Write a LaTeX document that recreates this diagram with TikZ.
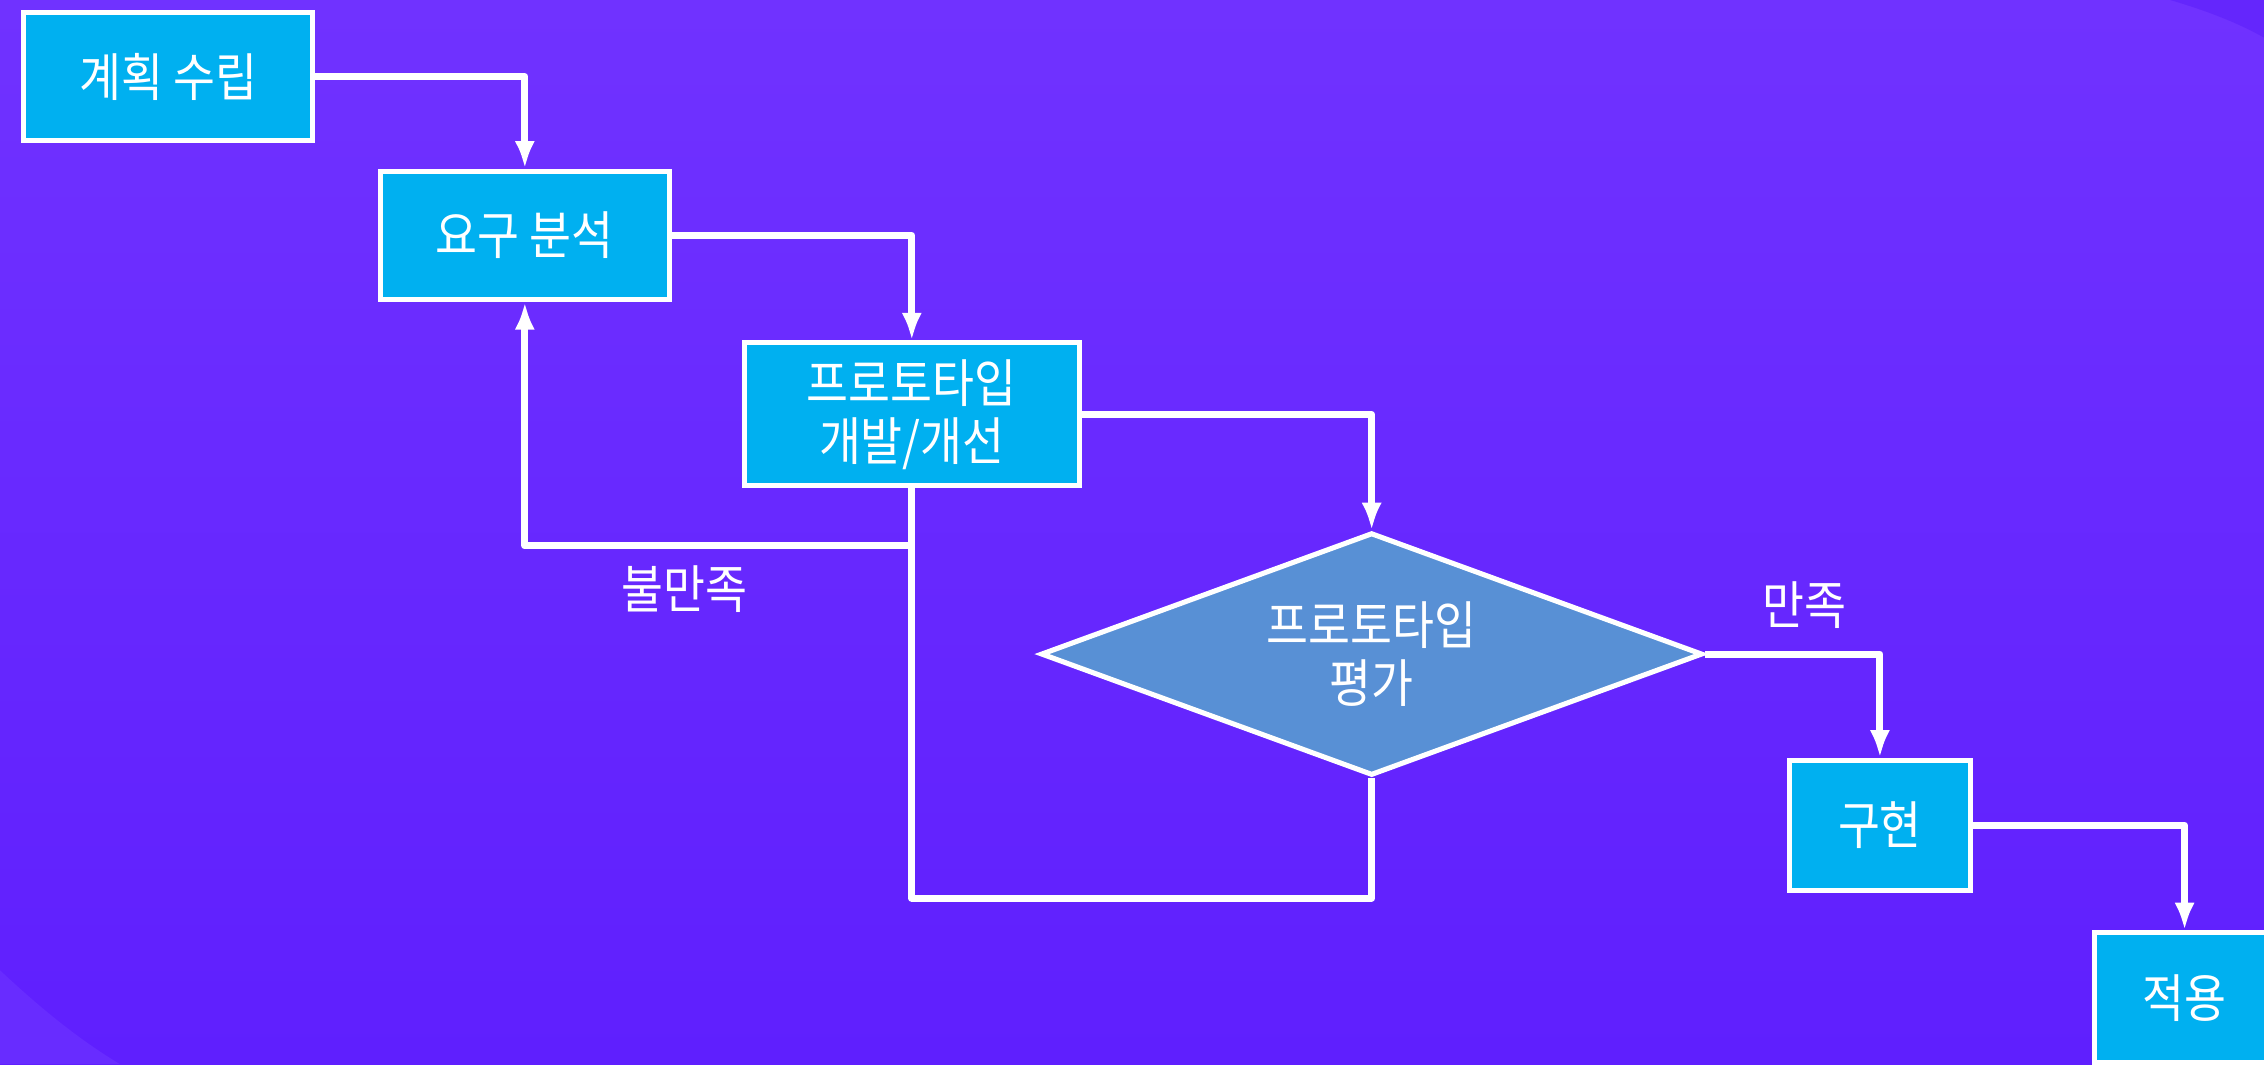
\documentclass[tikz,border=0pt]{standalone}
\usepackage{fontspec}
\setmainfont{Noto Sans CJK KR}[FakeStretch=0.88]
\usetikzlibrary{arrows.meta,shapes.geometric,positioning}
\definecolor{bgtop}{RGB}{112,50,255}
\definecolor{bgbot}{RGB}{95,31,254}
\definecolor{bgdark}{RGB}{100,38,252}
\definecolor{bglight}{RGB}{104,44,255}
\definecolor{boxblue}{RGB}{0,176,240}
\definecolor{dmdblue}{RGB}{88,144,213}
\begin{document}
\begin{tikzpicture}[x=0.01cm,y=-0.01cm,
  every node/.style={font=\fontsize{10.2pt}{11.4pt}\selectfont,text=white},
  stepbox/.style={draw=white,line width=1pt,fill=boxblue,align=center,inner sep=0pt},
  decision/.style={diamond,aspect=2.7,draw=white,line width=1pt,fill=dmdblue,align=center,inner sep=0pt,
    minimum width=4.58cm,minimum height=1.68cm},
  link/.style={draw=white,line width=1.4pt,line join=round,-{Latex[length=0.19cm,width=0.14cm]}},
  plain/.style={draw=white,line width=1.4pt,line join=round},
  lbl/.style={inner sep=0pt}]
\useasboundingbox (0,0) rectangle (1568,737);
\clip (0,0) rectangle (1568,737);
\shade[top color=bgtop,bottom color=bgbot] (0,0) rectangle (1568,737);
\fill[bgdark] (1503,0) .. controls (1530,8) and (1550,16) .. (1568,26) -- (1568,0) -- cycle;
\fill[bglight] (0,672) .. controls (30,700) and (55,720) .. (83,737) -- (0,737) -- cycle;

\node[stepbox,minimum width=2cm,minimum height=0.89cm] (plan) at (116.5,53) {계획 수립};
\node[stepbox,minimum width=2cm,minimum height=0.89cm] (req) at (363.5,163) {요구 분석};
\node[stepbox,minimum width=2.32cm,minimum height=0.99cm] (proto) at (631.5,287) {프로토타입\\개발/개선};
\node[decision] (eval) at (950,453) {프로토타입\\평가};
\node[stepbox,minimum width=1.25cm,minimum height=0.9cm] (impl) at (1302,571.5) {구현};
\node[stepbox,minimum width=1.25cm,minimum height=0.9cm] (apply) at (1513,691) {적용};

\node[lbl] (nosat) at (474,408) {불만족};
\node[lbl] (sat) at (1250,419) {만족};

\coordinate (loopbot) at (950,622);
\coordinate (loopturn) at (631,378);

\draw[link] (plan.east) -| (req.north);
\draw[link] (req.east) -| (proto.north);
\draw[link] (proto.east) -| (eval.north);
\draw[plain] (eval.south) -- (loopbot) -| (proto.south);
\draw[link] (loopturn) -| (req.south);
\draw[link] (eval.east) -| (impl.north);
\draw[link] (impl.east) -| (apply.north);
\end{tikzpicture}
\end{document}
